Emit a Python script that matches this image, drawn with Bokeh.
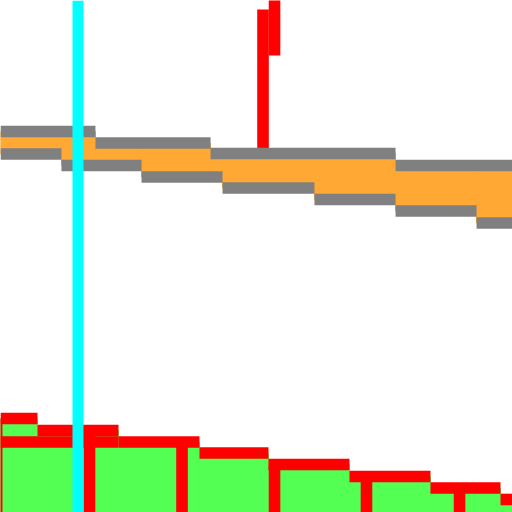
import numpy as np
from bokeh.plotting import figure
from bokeh.models import Range1d, Span
from bokeh.embed import file_html
from bokeh.resources import INLINE

# ---- data (chart units) ----
# confidence band: upper and lower step series
band_upper_edges = [0.0, 8.16, 18.05, 33.95, 44.5]
band_upper = [32.74, 31.75, 30.85, 29.82]
band_lower_edges = [0.0, 5.24, 12.12, 19.08, 26.98, 33.95, 40.91, 44.5]
band_lower = [30.81, 29.82, 28.83, 27.89, 26.90, 25.91, 24.88]

# red spike rising above the band
spike_x = [22.56, 23.55]
spike_bottom = [31.1, 39.27]
spike_top = [43.23, 45.0]

# histogram (step outline + filled area)
hist_edges = [0.0, 3.18, 10.14, 17.10, 23.03, 29.99, 36.95, 42.97, 44.5]
hist_values = [8.08, 7.05, 6.06, 5.11, 4.13, 3.09, 2.11, 1.12]
divider_x = [-0.33, 7.65, 15.60, 23.55, 31.45, 39.45]
bar_top_y = [6.06]
bar_top_from = [0.0]
bar_top_to = [10.14]

# vertical marker
marker_x = 6.66

# ---- figure ----
p = figure(width=512, height=512, output_backend="svg", toolbar_location=None,
           x_range=Range1d(0, 44), y_range=Range1d(0, 44),
           x_axis_location=None, y_axis_location=None, min_border=0,
           background_fill_color="white", border_fill_color="white")
p.outline_line_color = None
p.grid.visible = False

LW = 11.6
GREEN = "#52ff52"
ORANGE = "#ffa833"

# histogram fill
he = np.array(hist_edges)
hv = np.array(hist_values)
p.quad(left=he[:-1], right=he[1:], top=hv, bottom=-1,
       fill_color=GREEN, line_color=GREEN, line_width=1)

# dividers from baseline to outline
idx = np.clip(np.searchsorted(he, np.array(divider_x), side="right") - 1, 0, len(hv) - 1)
p.segment(x0=divider_x, y0=[-1] * len(divider_x), x1=divider_x, y1=hv[idx],
          line_color="red", line_width=LW, line_cap="butt")
p.segment(x0=bar_top_from, y0=bar_top_y, x1=bar_top_to, y1=bar_top_y,
          line_color="red", line_width=LW, line_cap="butt")
# step outline
p.segment(x0=he[:-1], y0=hv, x1=he[1:], y1=hv, line_color="red", line_width=LW, line_cap="butt")

# spike
p.segment(x0=spike_x, y0=spike_bottom, x1=spike_x, y1=spike_top,
          line_color="red", line_width=LW, line_cap="butt")

# band fill
ue = np.array(band_upper_edges); uv = np.array(band_upper)
le = np.array(band_lower_edges); lv = np.array(band_lower)
edges = np.union1d(ue, le)
mids = (edges[:-1] + edges[1:]) / 2
top = uv[np.searchsorted(ue, mids, side="right") - 1]
bot = lv[np.searchsorted(le, mids, side="right") - 1]
p.quad(left=edges[:-1], right=edges[1:], top=top, bottom=bot,
       fill_color=ORANGE, line_color=ORANGE, line_width=1)

# band edges
p.segment(x0=ue[:-1], y0=uv, x1=ue[1:], y1=uv, line_color="gray", line_width=LW, line_cap="butt")
p.segment(x0=le[:-1], y0=lv, x1=le[1:], y1=lv, line_color="gray", line_width=LW, line_cap="butt")

# vertical marker
p.add_layout(Span(location=marker_x, dimension="height", line_color="cyan", line_width=11))

open("out.html", "w").write(file_html(p, INLINE))
